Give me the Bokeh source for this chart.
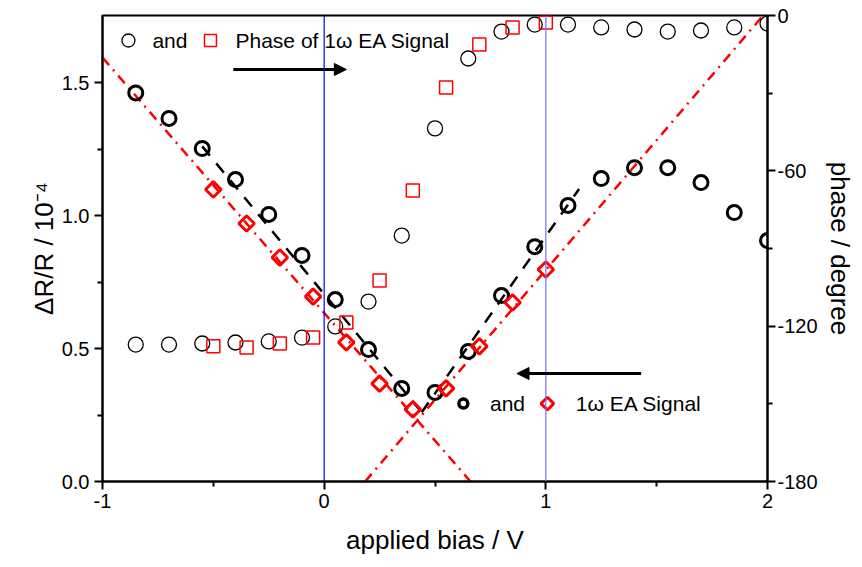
import math
from bokeh.plotting import figure
from bokeh.models import (Range1d, LinearAxis, FixedTicker, Arrow, NormalHead,
                          Span, Label, NumeralTickFormatter)
from bokeh.embed import file_html
from bokeh.resources import INLINE

# ---------------- data ----------------
bias_circ = [-0.85, -0.70, -0.55, -0.40, -0.25, -0.10, 0.05, 0.20, 0.35, 0.50,
             0.65, 0.80, 0.95, 1.10, 1.25, 1.40, 1.55, 1.70, 1.85, 2.00]
dRR_total = [1.461, 1.365, 1.252, 1.135, 1.004, 0.850, 0.684, 0.496, 0.350, 0.335,
             0.489, 0.699, 0.883, 1.038, 1.139, 1.180, 1.180, 1.124, 1.011, 0.906]
phase_total = [-127.1, -127.1, -126.7, -126.3, -125.9, -124.4, -120.1, -110.5, -85.0, -43.6,
               -16.6, -6.2, -3.5, -3.5, -4.6, -5.4, -6.2, -5.8, -4.6, -3.1]

bias_1w = [-0.50, -0.35, -0.20, -0.05, 0.10, 0.25, 0.40, 0.55, 0.70, 0.85, 1.00]
dRR_1w = [1.098, 0.970, 0.842, 0.695, 0.523, 0.368, 0.271, 0.350, 0.508, 0.673, 0.797]
phase_1w = [-127.8, -128.2, -126.7, -124.4, -118.6, -102.4, -67.6, -27.8, -11.2, -4.6, -2.7]

# linear guide lines (endpoints)
fit_tot_left_x = [-0.55, 0.44]
fit_tot_left_y = [1.26, 0.26]
fit_tot_right_x = [0.44, 1.15]
fit_tot_right_y = [0.26, 1.10]
fit_1w_left_x = [-1.0, 0.66]
fit_1w_left_y = [1.594, 0.0]
fit_1w_right_x = [0.185, 1.98]
fit_1w_right_y = [0.0, 1.752]

x_ticks = [-1, 0, 1, 2]
x_minor = [-0.5, 0.5, 1.5]
y_ticks = [0.0, 0.5, 1.0, 1.5]
y_minor = [0.25, 0.75, 1.25]
ph_ticks = [-180, -120, -60, 0]
ph_minor = [-150, -90, -30]

FONT = "Liberation Sans"

p = figure(width=862, height=567, output_backend="svg", toolbar_location=None,
           x_range=Range1d(-1, 2), y_range=Range1d(0, 1.752))
p.min_border_left = 102
p.min_border_right = 95
p.min_border_top = 15
p.min_border_bottom = 86
p.extra_y_ranges = {"phase": Range1d(-180, 0)}
p.grid.visible = False
p.outline_line_color = "black"
p.outline_line_width = 2
p.background_fill_color = "white"
p.border_fill_color = "white"

def style_axis(ax, ticks, minor, size="20px"):
    ax.ticker = FixedTicker(ticks=ticks, minor_ticks=minor)
    ax.axis_line_color = "black"
    ax.axis_line_width = 2
    ax.major_tick_line_width = 2
    ax.minor_tick_line_width = 2
    ax.major_tick_in = 0
    ax.major_tick_out = 8
    ax.minor_tick_in = 0
    ax.minor_tick_out = 5
    ax.major_label_text_font = FONT
    ax.major_label_text_font_size = size
    ax.major_label_text_color = "black"
    ax.axis_label_text_font = FONT
    ax.axis_label_text_font_size = "26px"
    ax.axis_label_text_font_style = "normal"
    ax.axis_label_text_color = "black"

xa = p.xaxis[0]
style_axis(xa, x_ticks, x_minor)
xa.formatter = NumeralTickFormatter(format="0")
xa.axis_label = "applied bias / V"
xa.major_label_standoff = 4
xa.axis_label_standoff = 14

ya = p.yaxis[0]
style_axis(ya, y_ticks, y_minor)
ya.formatter = NumeralTickFormatter(format="0.0")
ya.axis_label = "ΔR/R / 10⁻⁴"
ya.major_label_standoff = 5
ya.axis_label_standoff = 0

ra = LinearAxis(y_range_name="phase")
style_axis(ra, ph_ticks, ph_minor)
ra.formatter = NumeralTickFormatter(format="0")
ra.axis_label = "phase / degree"
ra.major_label_standoff = 2
ra.axis_label_standoff = 4
p.add_layout(ra, "right")

# blue vertical lines
p.add_layout(Span(location=0, dimension="height", line_color="blue", line_width=1.2))
p.add_layout(Span(location=1, dimension="height", line_color="#7070ff", line_width=1.2))

# guide lines
p.line(fit_1w_left_x, fit_1w_left_y, line_color="red", line_width=2.5, line_dash="10 6 2 6")
p.line(fit_1w_right_x, fit_1w_right_y, line_color="red", line_width=2.5, line_dash="10 6 2 6")
p.line(fit_tot_left_x, fit_tot_left_y, line_color="black", line_width=2.5, line_dash="12 10")
p.line(fit_tot_right_x, fit_tot_right_y, line_color="black", line_width=2.5, line_dash="12 10")

# phase markers (right axis)
p.scatter(bias_circ, phase_total, marker="circle", size=15, fill_color=None,
          line_color="black", line_width=1.3, y_range_name="phase")
p.scatter(bias_1w, phase_1w, marker="square", size=13, fill_color=None,
          line_color="red", line_width=1.5, y_range_name="phase")

# amplitude markers (left axis)
p.scatter(bias_circ, dRR_total, marker="circle", size=14, fill_color=None,
          line_color="black", line_width=3)
p.scatter(bias_1w, dRR_1w, marker="square", angle=math.pi / 4, size=11, fill_color=None,
          line_color="red", line_width=3)

# arrows
p.add_layout(Arrow(x_start=-0.41, y_start=1.549, x_end=0.10, y_end=1.549,
                   line_width=3, line_color="black",
                   end=NormalHead(size=12, fill_color="black", line_color="black")))
p.add_layout(Arrow(x_start=1.43, y_start=0.406, x_end=0.87, y_end=0.406,
                   line_width=3, line_color="black",
                   end=NormalHead(size=12, fill_color="black", line_color="black")))

# legend-like annotations
p.scatter([-0.883], [1.658], marker="circle", size=13, fill_color=None,
          line_color="black", line_width=1.3)
p.scatter([-0.513], [1.658], marker="square", size=12, fill_color=None,
          line_color="red", line_width=1.5)
p.scatter([0.628], [0.293], marker="circle", size=9, fill_color=None,
          line_color="black", line_width=3.5)
p.scatter([1.007], [0.293], marker="square", angle=math.pi / 4, size=9, fill_color=None,
          line_color="red", line_width=3)

for tx, ty, tt in [(-0.775, 1.658, "and"), (-0.40, 1.658, "Phase of 1ω EA Signal"),
                   (0.748, 0.293, "and"), (1.135, 0.293, "1ω EA Signal")]:
    p.add_layout(Label(x=tx, y=ty, text=tt, text_font=FONT, text_font_size="21px",
                       text_baseline="middle", text_align="left", text_color="black"))

open("out.html", "w").write(file_html(p, INLINE))
